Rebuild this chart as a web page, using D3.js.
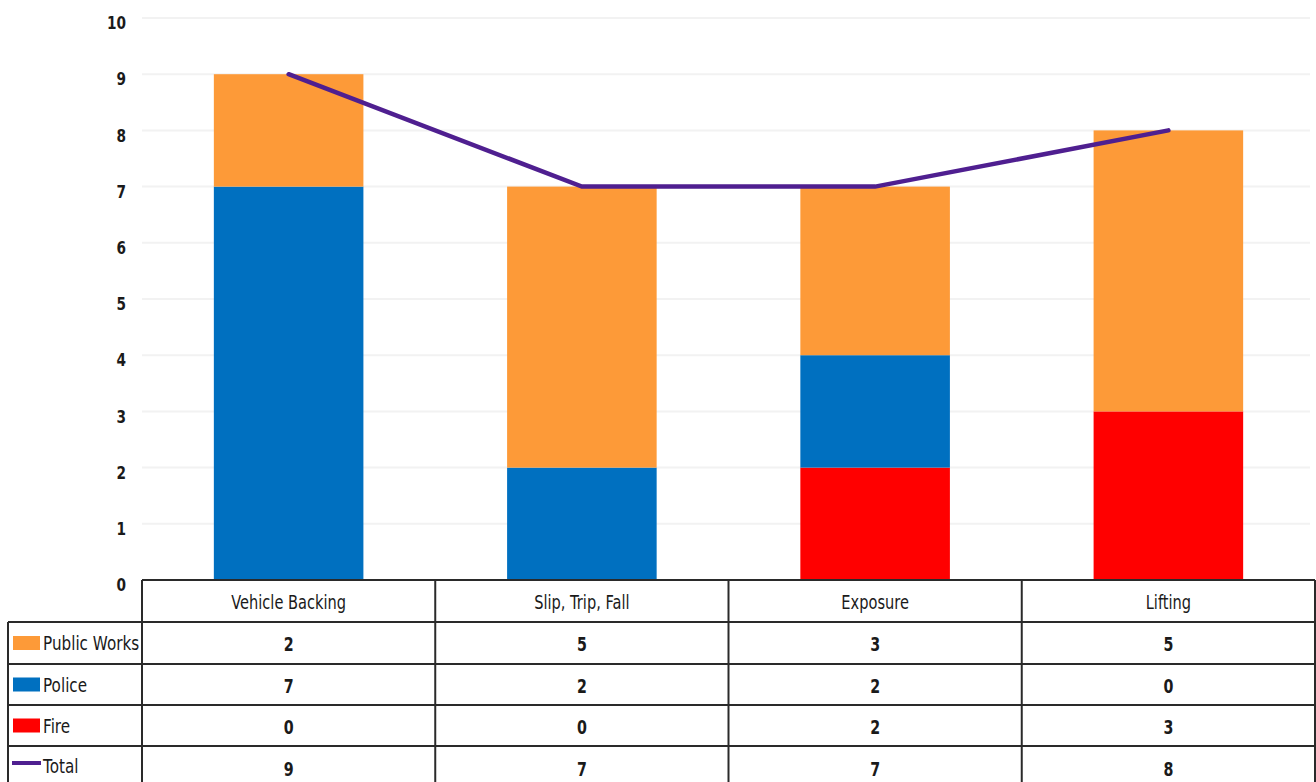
<!DOCTYPE html>
<html><head><meta charset="utf-8">
<script src="https://cdn.jsdelivr.net/npm/d3@7"></script>
<style>
html,body{margin:0;padding:0;background:#fff;}
svg text{font-family:"DejaVu Sans",sans-serif;fill:#1a1a1a;}
</style></head>
<body><svg id="c" width="1316" height="782"></svg>
<script>
const categories = ["Vehicle Backing", "Slip, Trip, Fall", "Exposure", "Lifting"];
const publicWorks = [2, 5, 3, 5];
const police = [7, 2, 2, 0];
const fire = [0, 0, 2, 3];
const total = [9, 7, 7, 8];
const yTicks = [0,1,2,3,4,5,6,7,8,9,10];
const seriesNames = ["Public Works", "Police", "Fire", "Total"];

(function(){
const colors = {"Public Works":"#fd9a38", "Police":"#0070c0", "Fire":"#ff0000", "Total":"#4f1f90"};

const svg = d3.select("#c");
const pLeft = 142, pRight = 1315, pTop = 18, pBottom = 580;
const tableLeft = 8;
const rowEdges = [580, 622, 664, 705, 746, 788];

const x = d3.scaleBand().domain(categories).range([pLeft, pRight]).paddingInner(0).paddingOuter(0);
const y = d3.scaleLinear().domain([0, 10]).range([pBottom, pTop]);

function place(sel, px, py, sx) {
  sel.attr("transform", `translate(${px},${py}) scale(${sx},1)`);
  return sel;
}

svg.append("g").selectAll("line").data(yTicks.filter(d=>d>0)).join("line")
  .attr("x1", pLeft).attr("x2", pRight - 5)
  .attr("y1", d=>y(d)).attr("y2", d=>y(d))
  .attr("stroke", "#f2f2f2").attr("stroke-width", 2);

const yAxis = d3.axisLeft(y).tickValues(yTicks).tickSize(0).tickPadding(0).tickFormat(d3.format("d"));
const ya = svg.append("g").attr("transform", `translate(126,5)`).call(yAxis);
ya.select(".domain").remove();
ya.selectAll("text").style("font-size","18px").style("font-weight","bold").attr("fill","#1a1a1a")
  .attr("transform", `scale(0.76,1)`);

const rows = categories.map((c,i)=>({cat:c, fire:fire[i], police:police[i], publicWorks:publicWorks[i]}));
const stack = d3.stack().keys(["fire","police","publicWorks"])(rows);
const keyColor = {fire:colors["Fire"], police:colors["Police"], publicWorks:colors["Public Works"]};
const bw = x.bandwidth()*0.51;
svg.append("g").selectAll("g").data(stack).join("g").attr("fill", d=>keyColor[d.key])
  .selectAll("rect").data(d=>d).join("rect")
  .attr("x", d=>x(d.data.cat) + (x.bandwidth()-bw)/2)
  .attr("width", bw)
  .attr("y", d=>y(d[1]))
  .attr("height", d=>y(d[0])-y(d[1]));

const line = d3.line().x((d,i)=>x(categories[i])+x.bandwidth()/2).y(d=>y(d));
svg.append("path").datum(total).attr("d", line).attr("fill","none")
  .attr("stroke", colors["Total"]).attr("stroke-width", 4.5).attr("stroke-linecap","round");

const tg = svg.append("g");
const stroke = "#2a2a2a";
tg.append("line").attr("x1", pLeft).attr("x2", pRight).attr("y1", rowEdges[0]).attr("y2", rowEdges[0]).attr("stroke", stroke).attr("stroke-width", 2);
rowEdges.slice(1,5).forEach(yy=>{
  tg.append("line").attr("x1", tableLeft).attr("x2", pRight).attr("y1", yy).attr("y2", yy).attr("stroke", stroke).attr("stroke-width", 2);
});
tg.append("line").attr("x1", tableLeft).attr("x2", tableLeft).attr("y1", rowEdges[1]).attr("y2", 782).attr("stroke", stroke).attr("stroke-width", 2);
categories.forEach(c=>{
  tg.append("line").attr("x1", x(c)).attr("x2", x(c)).attr("y1", rowEdges[0]).attr("y2", 782).attr("stroke", stroke).attr("stroke-width", 2);
});
tg.append("line").attr("x1", pRight).attr("x2", pRight).attr("y1", rowEdges[0]).attr("y2", 782).attr("stroke", stroke).attr("stroke-width", 2);

categories.forEach(c=>{
  place(tg.append("text"), x(c)+x.bandwidth()/2, (rowEdges[0]+rowEdges[1])/2 + 8, 0.73)
    .attr("text-anchor","middle").style("font-size","20px").text(c);
});

const tableData = [publicWorks, police, fire, total];
seriesNames.forEach((name, r)=>{
  const y0 = rowEdges[r+1], y1 = rowEdges[r+2];
  const cy = (y0 + Math.min(y1, 786))/2;
  if (name === "Total") {
    tg.append("line").attr("x1", 12).attr("x2", 41).attr("y1", cy-3).attr("y2", cy-3)
      .attr("stroke", colors[name]).attr("stroke-width", 4);
  } else {
    tg.append("rect").attr("x", 13).attr("y", cy-7).attr("width", 27).attr("height", 14).attr("fill", colors[name]);
  }
  place(tg.append("text"), 43, cy + 7, 0.76).style("font-size","20px").text(name);
  const numY = name === "Total" ? cy + 10 : cy + 8;
  tableData[r].forEach((v,i)=>{
    place(tg.append("text"), x(categories[i])+x.bandwidth()/2, numY, 0.75)
      .attr("text-anchor","middle").style("font-size","19px").style("font-weight","600").text(v);
  });
});
})();
</script></body></html>
